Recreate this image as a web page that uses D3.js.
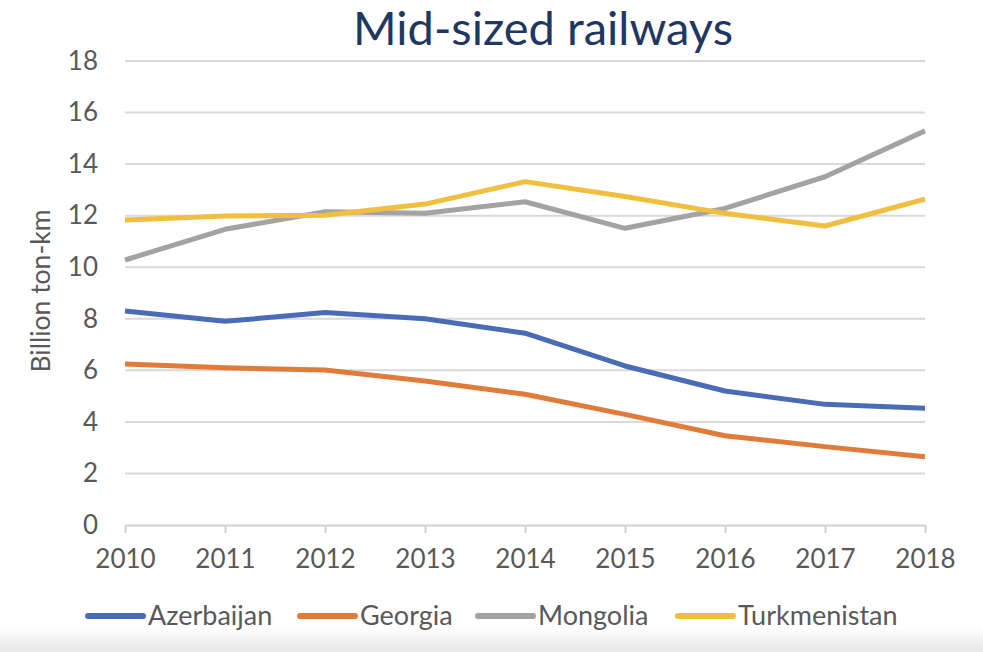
<!DOCTYPE html>
<html>
<head>
<meta charset="utf-8">
<script src="https://cdn.jsdelivr.net/npm/d3@7"></script>
<style>
  html, body { margin: 0; padding: 0; background: #ffffff; }
  svg { display: block; }
</style>
</head>
<body>
<svg id="chart" width="983" height="652"></svg>
<script>
// Freight turnover of mid-sized railways, billion ton-km
const years = ["2010", "2011", "2012", "2013", "2014", "2015", "2016", "2017", "2018"];
const azerbaijan   = [8.3, 7.9, 8.24, 8.0, 7.44, 6.17, 5.2, 4.68, 4.53];
const georgia      = [6.25, 6.1, 6.01, 5.59, 5.07, 4.29, 3.46, 3.04, 2.65];
const mongolia     = [10.28, 11.47, 12.15, 12.09, 12.54, 11.51, 12.28, 13.51, 15.29];
const turkmenistan = [11.83, 11.99, 12.02, 12.45, 13.32, 12.74, 12.09, 11.6, 12.64];
const yTicks = [0, 2, 4, 6, 8, 10, 12, 14, 16, 18];
const seriesNames = ["Azerbaijan", "Georgia", "Mongolia", "Turkmenistan"];
const seriesColors = ["#4a6cb7", "#e07b3a", "#a3a3a3", "#f1bf3e"];

const series = [azerbaijan, georgia, mongolia, turkmenistan].map((values, i) => ({
  name: seriesNames[i], color: seriesColors[i], values
}));

const svg = d3.select("#chart");
const font = "Lato, 'Open Sans', sans-serif";
const textColor = "#595959";

// soft grey shading along the bottom edge of the panel
const defs = svg.append("defs");
const grad = defs.append("linearGradient").attr("id", "bottomShade")
  .attr("x1", 0).attr("y1", 0).attr("x2", 0).attr("y2", 1);
grad.append("stop").attr("offset", 0).attr("stop-color", "#ffffff");
grad.append("stop").attr("offset", 1).attr("stop-color", "#e6e6e6");
svg.append("rect").attr("x", 0).attr("y", 628).attr("width", 983).attr("height", 24)
  .attr("fill", "url(#bottomShade)");

const x = d3.scalePoint().domain(years).range([125, 925]);
const y = d3.scaleLinear().domain([0, 18]).range([525, 61]);

// title
svg.append("text")
  .attr("x", 543).attr("y", 45)
  .attr("text-anchor", "middle")
  .attr("font-family", font)
  .attr("font-size", 47)
  .attr("fill", "#1f3763")
  .text("Mid-sized railways");

// horizontal gridlines
svg.append("g")
  .selectAll("line")
  .data(yTicks.filter(d => d > 0))
  .join("line")
  .attr("x1", x.range()[0]).attr("x2", x.range()[1])
  .attr("y1", d => y(d)).attr("y2", d => y(d))
  .attr("stroke", "#d9d9d9").attr("stroke-width", 2);

// y axis labels
const yAxis = svg.append("g")
  .attr("transform", `translate(${x.range()[0]},0)`)
  .call(d3.axisLeft(y).tickValues(yTicks).tickSize(0).tickPadding(27));
yAxis.select(".domain").remove();
yAxis.selectAll("text")
  .attr("font-family", font).attr("font-size", 26).attr("fill", textColor);

// x axis with category ticks
const xAxis = svg.append("g")
  .attr("transform", `translate(0,${y(0)})`)
  .call(d3.axisBottom(x).tickSize(8).tickPadding(17).tickSizeOuter(0));
xAxis.select(".domain").attr("stroke", "#d0d0d0").attr("stroke-width", 2);
xAxis.selectAll(".tick line").attr("stroke", "#d0d0d0").attr("stroke-width", 2);
xAxis.selectAll("text")
  .attr("font-family", font).attr("font-size", 26).attr("fill", textColor);

// y axis title
svg.append("text")
  .attr("transform", `translate(50,291) rotate(-90)`)
  .attr("text-anchor", "middle")
  .attr("font-family", font)
  .attr("font-size", 26.5)
  .attr("fill", textColor)
  .text("Billion ton-km");

// series lines
const line = d3.line()
  .x((d, i) => x(years[i]))
  .y(d => y(d));

svg.append("g")
  .selectAll("path")
  .data(series)
  .join("path")
  .attr("d", d => line(d.values))
  .attr("fill", "none")
  .attr("stroke", d => d.color)
  .attr("stroke-width", 5)
  .attr("stroke-linejoin", "round")
  .attr("stroke-linecap", "butt");

// legend
const legendX = [88, 300, 478, 678];
const legend = svg.append("g")
  .selectAll("g")
  .data(series)
  .join("g")
  .attr("transform", (d, i) => `translate(${legendX[i]},616)`);
legend.append("line")
  .attr("x1", 0).attr("x2", 55).attr("y1", 0).attr("y2", 0)
  .attr("stroke", d => d.color).attr("stroke-width", 6)
  .attr("stroke-linecap", "round");
legend.append("text")
  .attr("x", 60).attr("y", 0).attr("dy", "0.35em")
  .attr("font-family", font).attr("font-size", 27).attr("fill", textColor)
  .text(d => d.name);
</script>
</body>
</html>
